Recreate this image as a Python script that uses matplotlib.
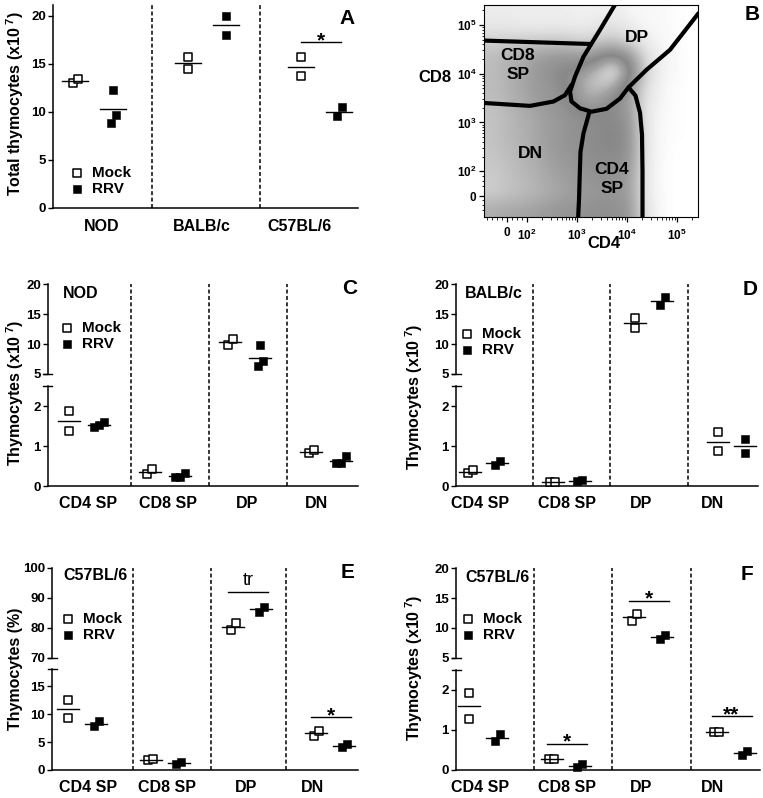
import numpy as np
import matplotlib
matplotlib.use('Agg')
import matplotlib.pyplot as plt
from matplotlib.colors import LinearSegmentedColormap

plt.rcParams['font.family'] = ['Liberation Sans', 'DejaVu Sans']
plt.rcParams['font.weight'] = 'bold'
plt.rcParams['mathtext.fontset'] = 'custom'
plt.rcParams['mathtext.rm'] = 'Liberation Sans:bold'
plt.rcParams['mathtext.bf'] = 'Liberation Sans:bold'
plt.rcParams['mathtext.it'] = 'Liberation Sans:bold'
plt.rcParams['mathtext.default'] = 'rm'

# ------------------------------------------------------------------ data
STRAINS = ['NOD', 'BALB/c', 'C57BL/6']
A_MOCK = [[13.0, 13.4], [15.7, 14.4], [15.66, 13.7]]
A_RRV = [[12.2, 9.7, 8.8], [20.0, 18.0], [10.45, 9.5]]
A_SIG = [(2, 17.25, '*')]

SUBSETS = ['CD4 SP', 'CD8 SP', 'DP', 'DN']
C_MOCK = [[1.87, 1.37], [0.30, 0.42], [9.85, 10.9], [0.82, 0.90]]
C_RRV = [[1.60, 1.48, 1.52], [0.32, 0.22, 0.23], [9.8, 7.17, 6.28], [0.75, 0.57, 0.59]]
D_MOCK = [[0.32, 0.40], [0.10, 0.10], [12.64, 14.31], [1.35, 0.87]]
D_RRV = [[0.53, 0.64], [0.12, 0.16], [16.54, 17.82], [1.19, 0.83]]
E_MOCK = [[12.48, 9.30], [1.70, 1.95], [79.3, 81.55], [6.12, 7.02]]
E_RRV = [[7.92, 8.70], [1.02, 1.38], [85.4, 86.9], [4.08, 4.62]]
E_SIG = [(2, 91.9, 'tr'), (3, 9.42, '*')]
F_MOCK = [[1.93, 1.27], [0.27, 0.27], [11.24, 12.36], [0.96, 0.96]]
F_RRV = [[0.73, 0.89], [0.08, 0.14], [8.12, 8.79], [0.37, 0.48]]
F_SIG = [(1, 0.66, '*'), (2, 14.59, '*'), (3, 1.35, '**')]

# flow plot (logicle-like units: 2 -> 10^2, 3 -> 10^3 ...)
FLOW_X_TICKS = [1.6, 2, 3, 4, 5]
FLOW_X_LABELS = ['0', '10$^2$', '10$^3$', '10$^4$', '10$^5$']
FLOW_Y_TICKS = [1.49, 2, 3, 4, 5]
FLOW_Y_LABELS = ['0', '10$^2$', '10$^3$', '10$^4$', '10$^5$']
FLOW_EXTENT = (1.14, 5.42, 1.06, 5.41)
DENSITY = np.array([
    [0.06, 0.06, 0.05, 0.05, 0.05, 0.05, 0.04, 0.04, 0.05, 0.03, 0.02, 0.02, 0.01, 0.0],
    [0.08, 0.08, 0.07, 0.07, 0.07, 0.07, 0.06, 0.10, 0.12, 0.06, 0.03, 0.02, 0.01, 0.0],
    [0.22, 0.24, 0.25, 0.26, 0.27, 0.26, 0.20, 0.25, 0.28, 0.18, 0.06, 0.03, 0.01, 0.0],
    [0.30, 0.36, 0.42, 0.50, 0.56, 0.58, 0.55, 0.72, 0.86, 0.62, 0.15, 0.04, 0.02, 0.0],
    [0.30, 0.36, 0.44, 0.54, 0.62, 0.70, 0.82, 0.92, 1.00, 0.80, 0.20, 0.04, 0.02, 0.0],
    [0.30, 0.36, 0.44, 0.52, 0.58, 0.70, 0.86, 0.90, 0.84, 0.55, 0.12, 0.03, 0.01, 0.0],
    [0.28, 0.34, 0.42, 0.50, 0.56, 0.64, 0.80, 0.80, 0.62, 0.50, 0.10, 0.03, 0.01, 0.0],
    [0.26, 0.32, 0.38, 0.45, 0.52, 0.58, 0.62, 0.66, 0.66, 0.56, 0.08, 0.02, 0.01, 0.0],
    [0.26, 0.32, 0.38, 0.45, 0.52, 0.58, 0.62, 0.66, 0.70, 0.60, 0.08, 0.02, 0.01, 0.0],
    [0.26, 0.30, 0.36, 0.44, 0.52, 0.58, 0.62, 0.66, 0.68, 0.60, 0.08, 0.02, 0.0, 0.0],
    [0.24, 0.28, 0.34, 0.40, 0.48, 0.54, 0.60, 0.62, 0.62, 0.56, 0.07, 0.02, 0.0, 0.0],
    [0.22, 0.26, 0.32, 0.38, 0.45, 0.50, 0.56, 0.60, 0.60, 0.52, 0.07, 0.02, 0.0, 0.0],
    [0.22, 0.26, 0.30, 0.36, 0.42, 0.48, 0.52, 0.56, 0.56, 0.50, 0.07, 0.02, 0.0, 0.0],
    [0.40, 0.44, 0.46, 0.50, 0.54, 0.58, 0.60, 0.62, 0.62, 0.56, 0.10, 0.02, 0.0, 0.0],
])
GATE_CD8_TOP_X = [1.14, 3.26]
GATE_CD8_TOP_Y = [4.68, 4.61]
GATE_CD8_LOW_X = [1.14, 2.06, 2.53, 2.76, 2.89]
GATE_CD8_LOW_Y = [3.40, 3.34, 3.43, 3.56, 3.77]
GATE_DP_X = [3.78, 3.46, 3.13, 2.96, 2.86, 2.89, 3.06, 3.29, 3.59, 3.86, 4.03, 4.39, 4.86, 5.43]
GATE_DP_Y = [5.45, 4.90, 4.35, 3.94, 3.63, 3.43, 3.29, 3.22, 3.28, 3.49, 3.72, 4.08, 4.49, 5.24]
GATE_CD4_L_X = [3.25, 3.13, 3.07, 3.06, 3.04, 3.02]
GATE_CD4_L_Y = [3.22, 2.78, 2.40, 2.09, 1.41, 1.00]
GATE_CD4_R_X = [4.03, 4.17, 4.26, 4.30, 4.31, 4.31]
GATE_CD4_R_Y = [3.72, 3.55, 3.20, 2.75, 2.00, 1.00]
GATE_LABELS = [('CD8\nSP', 1.82, 4.18), ('DP', 4.2, 4.75), ('DN', 2.06, 2.37), ('CD4\nSP', 3.70, 1.84)]

# ------------------------------------------------------------------ layout
W, H = 763, 798
fig = plt.figure(figsize=(W / 100, H / 100), dpi=100)


def rect(l, t, r, b):
    return [l / W, 1 - b / H, (r - l) / W, (b - t) / H]


def ftext(x, y, s, **kw):
    fig.text(x / W, 1 - y / H, s, **kw)


DASH = (0, (2.6, 1.6))
OPEN = dict(marker='s', s=28, facecolor='white', edgecolor='black', linewidths=1.1, zorder=3, clip_on=False)
FILL = dict(marker='s', s=34, facecolor='black', edgecolor='black', linewidths=0.4, zorder=3, clip_on=False)


def draw_group(ax, xc, vals, style, s, half_px):
    ys = [ax.transData.transform((0, v))[1] for v in vals]
    order = sorted(range(len(vals)), key=lambda i: ys[i])
    xs = [xc] * len(vals)
    clusters, cur = [], [order[0]]
    for i in order[1:]:
        if ys[i] - ys[cur[-1]] < 9.5:
            cur.append(i)
        else:
            clusters.append(cur)
            cur = [i]
    clusters.append(cur)
    for cl in clusters:
        n = len(cl)
        for k, i in enumerate(cl):
            xs[i] = xc + (k - (n - 1) / 2) * 5.0 / s
    art = ax.scatter(xs, vals, **style)
    m = float(np.mean(vals))
    ax.plot([xc - half_px / s, xc + half_px / s], [m, m], color='black', lw=1.0, zorder=4, clip_on=False)
    return art


def sig(ax, xc, y, txt, s):
    ax.plot([xc - 19 / s, xc + 21 / s], [y, y], color='black', lw=1.0, clip_on=False)
    if txt == 'tr':
        ax.annotate(txt, (xc + 1 / s, y), xytext=(0, 2), textcoords='offset points',
                    ha='center', va='bottom', fontsize=13, fontweight='normal')
    else:
        ax.annotate(txt, (xc + 1 / s, y), xytext=(0, -3), textcoords='offset points',
                    ha='center', va='baseline', fontsize=15, fontweight='bold')


def legend(ax, arts, x, y):
    ax.legend(arts, ['Mock', 'RRV'], loc='center left', bbox_to_anchor=(x / W, 1 - y / H),
              bbox_transform=fig.transFigure, frameon=False, fontsize=11, handlelength=0.8,
              handletextpad=0.6, labelspacing=0.12, borderpad=0, borderaxespad=0, scatterpoints=1)


# ------------------------------------------------------------------ panel A
g0, s = 94, 113.0
axA = fig.add_axes(rect(53, 5, 358, 207.7))
axA.set_xlim((53 - g0) / s, (358 - g0) / s)
axA.set_ylim(0, 21.1)
for sp in ('top', 'right'):
    axA.spines[sp].set_visible(False)
for sp in ('left', 'bottom'):
    axA.spines[sp].set_linewidth(1.1)
axA.set_yticks([0, 5, 10, 15, 20])
axA.tick_params(axis='y', direction='out', length=3.6, width=1.0, labelsize=9.5, pad=1.5)
axA.set_xticks([(p - g0) / s for p in (102, 202, 300)])
axA.set_xticklabels(STRAINS, fontsize=11.5)
axA.tick_params(axis='x', length=0, pad=8)
for p in (152, 260):
    axA.axvline((p - g0) / s, color='black', lw=1.1, ls=DASH)
arts = None
for i in range(3):
    a1 = draw_group(axA, i - 19 / s, A_MOCK[i], OPEN, s, 13)
    a2 = draw_group(axA, i + 19 / s, A_RRV[i], FILL, s, 13)
    arts = (a1, a2)
for gi, y, t in A_SIG:
    sig(axA, gi, y, t, s)
legend(axA, arts, 71, 181)
ftext(15, 104, 'Total thymocytes (x10$^{\\ 7}$)', rotation=90, ha='center', va='center', fontsize=11.5)
ftext(347, 18, 'A', ha='center', va='center', fontsize=15)

# ------------------------------------------------------------------ panel B
axB = fig.add_axes(rect(484, 5, 698, 217))
cmap = LinearSegmentedColormap.from_list('flow', [
    (0.0, '#ffffff'), (0.05, '#eeeeee'), (0.3, '#bdbdbd'), (0.5, '#9e9e9e'),
    (0.68, '#888888'), (0.82, '#a2a2a2'), (0.92, '#cbcbcb'), (0.97, '#efefef'), (1.0, '#6a6a6a')])
axB.imshow(DENSITY, extent=FLOW_EXTENT, origin='upper', cmap=cmap, vmin=0, vmax=1,
           interpolation='bicubic', aspect='auto')
axB.set_xlim(FLOW_EXTENT[0], FLOW_EXTENT[1])
axB.set_ylim(FLOW_EXTENT[2], FLOW_EXTENT[3])
gk = dict(color='black', lw=3.0, solid_capstyle='round', solid_joinstyle='round')
axB.plot(GATE_CD8_TOP_X, GATE_CD8_TOP_Y, **gk)
axB.plot(GATE_CD8_LOW_X, GATE_CD8_LOW_Y, **gk)
axB.plot(GATE_DP_X, GATE_DP_Y, **gk)
axB.plot(GATE_CD4_L_X, GATE_CD4_L_Y, **gk)
axB.plot(GATE_CD4_R_X, GATE_CD4_R_Y, **gk)
for t, x, y in GATE_LABELS:
    axB.text(x, y, t, ha='center', va='center', fontsize=12.5, linespacing=1.3)
for sp in axB.spines.values():
    sp.set_linewidth(0.8)
axB.set_xticks(FLOW_X_TICKS)
axB.set_xticklabels(FLOW_X_LABELS)
axB.set_yticks(FLOW_Y_TICKS)
axB.set_yticklabels(FLOW_Y_LABELS)
minor = [1.2, 1.3, 1.4, 1.5, 1.7, 1.8, 1.9]
for d in (2, 3, 4, 5):
    minor += [d + np.log10(k) for k in range(2, 10) if d + np.log10(k) < 5.42]
axB.set_xticks(minor, minor=True)
axB.set_yticks(minor, minor=True)
axB.tick_params(which='major', direction='out', length=3.5, width=0.9, labelsize=8.5, pad=2)
axB.tick_params(which='minor', direction='out', length=1.8, width=0.6)
axB.tick_params(axis='x', which='major', pad=4)
ftext(435, 78, 'CD8', ha='center', va='center', fontsize=12)
ftext(604, 244, 'CD4', ha='center', va='center', fontsize=12)
ftext(752, 14, 'B', ha='center', va='center', fontsize=15)


# ------------------------------------------------------------------ broken panels
def broken_panel(G, mock, rrv, up, lo, ylabel, strain, letter, sigs):
    l, r = G['x']
    ut, ub, lt, lb = G['y']
    g0, s, off = G['g0'], G['s'], G['off']
    xlim = ((l - g0) / s, (r - g0) / s)
    axu = fig.add_axes(rect(l, ut, r, ub))
    axl = fig.add_axes(rect(l, lt, r, lb))
    for ax in (axu, axl):
        ax.set_xlim(xlim)
        ax.patch.set_visible(False)
        for sp in ('top', 'right'):
            ax.spines[sp].set_visible(False)
        ax.spines['left'].set_linewidth(1.1)
        ax.spines['bottom'].set_linewidth(1.1)
        ax.tick_params(axis='y', direction='out', length=3.6, width=1.0, labelsize=9.5, pad=1.5)
    axu.spines['bottom'].set_visible(False)
    axu.set_xticks([])
    axu.set_ylim(up['lim'])
    axu.set_yticks(up['ticks'])
    axl.set_ylim(lo['lim'])
    axl.set_yticks(lo['ticks'])
    axl.set_yticklabels(lo['labels'])
    axl.set_xticks([(p - g0) / s for p in G['labels']])
    axl.set_xticklabels(SUBSETS, fontsize=11.5)
    axl.tick_params(axis='x', length=0, pad=7)
    # break caps
    w = r - l
    axu.plot([-4.5 / w, 4.5 / w], [0, 0], transform=axu.transAxes, color='black', lw=1.0, clip_on=False)
    axl.plot([-4.5 / w, 4.5 / w], [1, 1], transform=axl.transAxes, color='black', lw=1.0, clip_on=False)
    # separators
    axo = fig.add_axes(rect(l, ut, r, lb))
    axo.set_axis_off()
    axo.set_xlim(xlim)
    axo.set_ylim(0, 1)
    for p in G['seps']:
        axo.axvline((p - g0) / s, color='black', lw=1.1, ls=DASH)
    arts = None
    for i in range(4):
        pair = []
        for vals, sty, dx in ((mock[i], OPEN, -off), (rrv[i], FILL, off)):
            ax = axu if min(vals) >= up['lim'][0] else axl
            pair.append(draw_group(ax, i + dx / s, vals, sty, s, 11))
        arts = pair
    for gi, y, t in sigs:
        ax = axu if y >= up['lim'][0] else axl
        sig(ax, gi, y, t, s)
    legend(axu, arts, G['leg'][0], G['leg'][1])
    ftext(G['ylab'][0], G['ylab'][1], ylabel, rotation=90, ha='center', va='center', fontsize=11.5)
    ftext(G['strain'][0], G['strain'][1], strain, ha='left', va='center', fontsize=11.5)
    ftext(G['letter'][0], G['letter'][1], letter, ha='center', va='center', fontsize=15)


UP20 = dict(lim=(5, 20), ticks=[5, 10, 15, 20])
LO25 = dict(lim=(0, 2.5), ticks=[0, 1, 2], labels=['0', '1', '2'])
YL = 'Thymocytes (x10$^{\\ 7}$)'

GC = dict(x=(48, 358), y=(284.3, 374, 386, 486.3), g0=84, s=80.7, off=15,
          seps=(131, 209, 287), labels=(88, 168, 247, 317), leg=(61, 336),
          ylab=(15, 393), strain=(63, 293), letter=(350, 288))
GD = dict(x=(456, 758), y=(284.3, 374, 386, 486.3), g0=483.5, s=82.5, off=13.5,
          seps=(533, 610, 688), labels=(480, 567, 641, 712), leg=(461, 342),
          ylab=(414, 397), strain=(465, 293), letter=(750, 290))
GE = dict(x=(52, 358), y=(567.7, 658, 669.3, 770), g0=82, s=82.7, off=14,
          seps=(133, 211, 286), labels=(88, 167, 246, 312), leg=(62, 627),
          ylab=(16, 669), strain=(63, 576), letter=(348, 573))
GF = dict(x=(456, 760), y=(568.3, 657.7, 670, 770), g0=483, s=82.5, off=14,
          seps=(534, 612, 691), labels=(480, 567, 641, 712), leg=(462, 627),
          ylab=(414, 668), strain=(465, 577), letter=(747, 575))

broken_panel(GC, C_MOCK, C_RRV, UP20, LO25, YL, 'NOD', 'C', [])
broken_panel(GD, D_MOCK, D_RRV, UP20, LO25, YL, 'BALB/c', 'D', [])
broken_panel(GE, E_MOCK, E_RRV, dict(lim=(70, 100), ticks=[70, 80, 90, 100]),
             dict(lim=(0, 18), ticks=[0, 5, 10, 15], labels=['0', '5', '10', '15']),
             'Thymocytes (%)', 'C57BL/6', 'E', E_SIG)
broken_panel(GF, F_MOCK, F_RRV, UP20, LO25, YL, 'C57BL/6', 'F', F_SIG)

fig.savefig('out.png', dpi=100)
